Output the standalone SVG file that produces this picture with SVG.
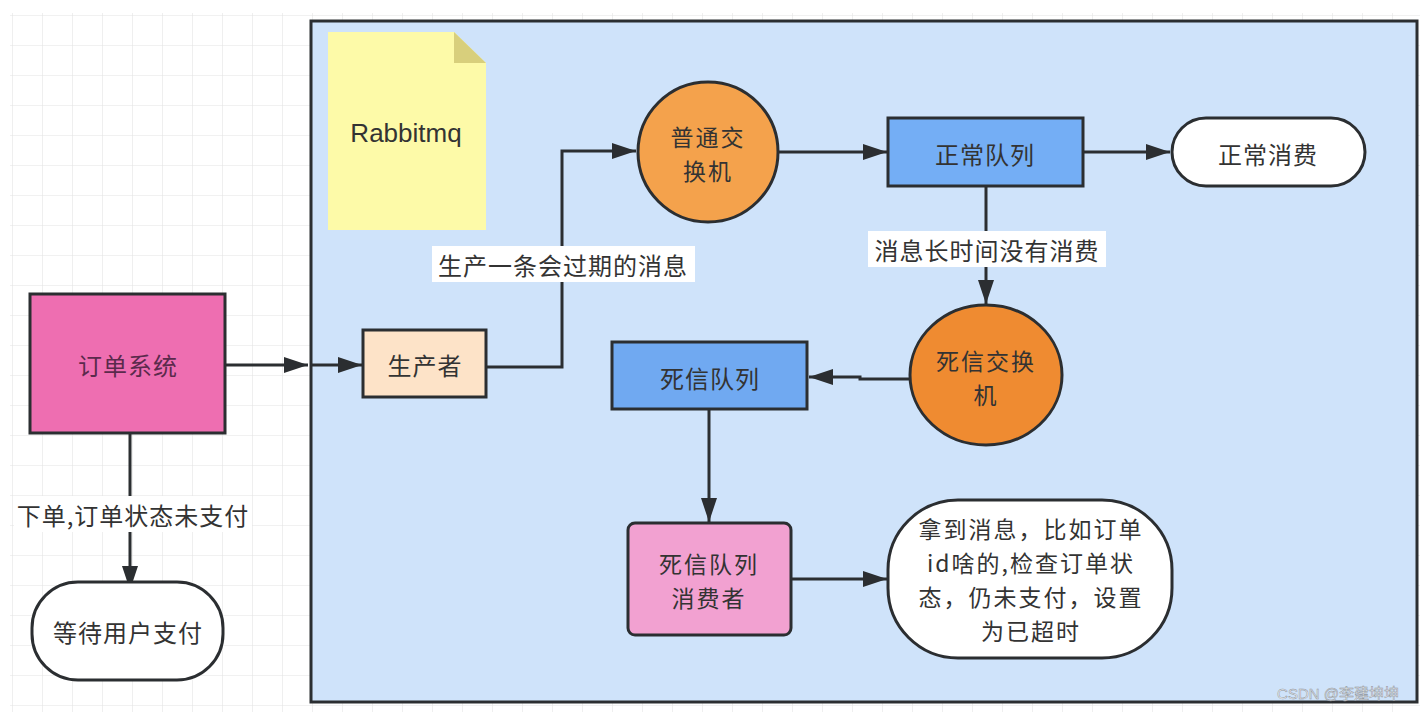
<svg xmlns="http://www.w3.org/2000/svg" width="1420" height="712" viewBox="0 0 1420 712">
<style>
.t{font-family:"Noto Sans CJK SC","Noto Sans",sans-serif;font-size:24px;fill:#333;text-anchor:middle;dominant-baseline:central;letter-spacing:1px}
.m{font-size:23px;letter-spacing:2px}
.box{stroke:#2b2e31;stroke-width:3}
.c{fill:none;stroke:#2b2e31;stroke-width:3}
</style>
<defs>
<pattern id="grid" patternUnits="userSpaceOnUse" x="12" y="15" width="30" height="30">
<path d="M0 0H30M0 0V30" fill="none" stroke="#e4e4e4" stroke-width="1.2"/>
</pattern>
<marker id="ah" markerUnits="userSpaceOnUse" markerWidth="26" markerHeight="20" refX="24" refY="10" orient="auto">
<path d="M0 2L24 10L0 18Z" fill="#2b2e31"/>
</marker>
</defs>
<rect width="1420" height="712" fill="#ffffff"/>
<rect x="10" y="13" width="1410" height="699" fill="url(#grid)"/>
<g id="container">
<rect x="311" y="21" width="1106" height="681" fill="#cfe3fa" class="box"/>
</g>
<g id="note">
<path d="M328 32H454L486 63V230H328Z" fill="#fdfaa8"/>
<path d="M454 32L486 63H454Z" fill="#d8cf7c"/>
<text x="406" y="133" style="font-family:'Liberation Sans',Arial,sans-serif;font-size:26px;fill:#333;text-anchor:middle;dominant-baseline:central">Rabbitmq</text>
</g>
<g id="connectors">
<path class="c" d="M225 365H308" marker-end="url(#ah)"/>
<path class="c" d="M312 365H362" marker-end="url(#ah)"/>
<path class="c" d="M486 367H562V151H636" marker-end="url(#ah)"/>
<path class="c" d="M777 152H887" marker-end="url(#ah)"/>
<path class="c" d="M1083 152H1170" marker-end="url(#ah)"/>
<path class="c" d="M986 187V304" marker-end="url(#ah)"/>
<path class="c" d="M910 379H860V377H809" marker-end="url(#ah)"/>
<path class="c" d="M709 409V522" marker-end="url(#ah)"/>
<path class="c" d="M791 579H887" marker-end="url(#ah)"/>
<path class="c" d="M130 433V590" marker-end="url(#ah)"/>
<rect x="432" y="246" width="263" height="36" fill="#ffffff"/>
<text class="t" x="563" y="264">生产一条会过期的消息</text>
<rect x="868" y="231" width="238" height="36" fill="#ffffff"/>
<text class="t" x="987" y="249">消息长时间没有消费</text>
<rect x="14" y="496" width="238" height="36" fill="#ffffff"/>
<text class="t" x="133" y="514">下单,订单状态未支付</text>
</g>
<g id="order-system">
<rect x="30" y="294" width="195" height="139" fill="#ee6eb1" class="box"/>
<text class="t" x="128" y="364" style="fill:#5b2a4c">订单系统</text>
</g>
<g id="wait-pay">
<rect x="32" y="582" width="191" height="98" rx="46" fill="#ffffff" class="box"/>
<text class="t" x="128" y="631">等待用户支付</text>
</g>
<g id="producer">
<rect x="363" y="330" width="123" height="67" fill="#fde3c8" class="box"/>
<text class="t" x="425" y="364">生产者</text>
</g>
<g id="normal-exchange">
<circle cx="708" cy="152" r="70" fill="#f4a24c" class="box"/>
<text class="t m" x="708" y="136">普通交</text>
<text class="t m" x="708" y="170">换机</text>
</g>
<g id="normal-queue">
<rect x="888" y="118" width="195" height="68" fill="#74aef5" class="box"/>
<text class="t" x="985" y="153">正常队列</text>
</g>
<g id="normal-consume">
<rect x="1172" y="118" width="193" height="68" rx="34" fill="#ffffff" class="box"/>
<text class="t" x="1268" y="153">正常消费</text>
</g>
<g id="dead-exchange">
<ellipse cx="986" cy="375" rx="76" ry="70" fill="#ef8b31" class="box"/>
<text class="t m" x="986" y="360">死信交换</text>
<text class="t m" x="986" y="394">机</text>
</g>
<g id="dead-queue">
<rect x="612" y="342" width="195" height="67" fill="#70a9f1" class="box"/>
<text class="t" x="710" y="377">死信队列</text>
</g>
<g id="dead-consumer">
<rect x="628" y="523" width="163" height="112" rx="7" fill="#f2a1d1" class="box"/>
<text class="t m" x="709" y="563">死信队列</text>
<text class="t m" x="709" y="597">消费者</text>
</g>
<g id="result">
<rect x="888" y="500" width="284" height="158" rx="70" fill="#ffffff" class="box"/>
<text class="t m" x="1031" y="528">拿到消息，比如订单</text>
<text class="t m" x="1031" y="562">id啥的,检查订单状</text>
<text class="t m" x="1031" y="596">态，仍未支付，设置</text>
<text class="t m" x="1031" y="630">为已超时</text>
</g>
<text x="1338" y="693" style="font-family:'Liberation Sans','Noto Sans CJK SC',sans-serif;font-size:15px;fill:#f4f6f8;stroke:#8c9198;stroke-width:0.5;text-anchor:middle;dominant-baseline:central">CSDN @李建坤坤</text>
</svg>
